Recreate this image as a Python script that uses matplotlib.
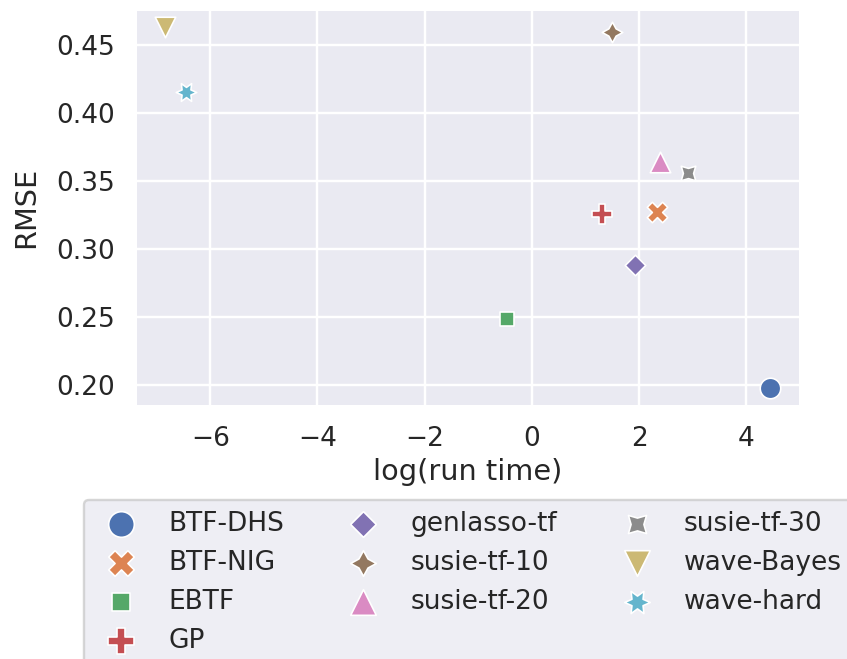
import matplotlib
matplotlib.use("Agg")
import matplotlib.pyplot as plt
import seaborn as sns

# run time (log scale) and error for each method
methods = ["BTF-DHS", "BTF-NIG", "EBTF", "GP", "genlasso-tf",
           "susie-tf-10", "susie-tf-20", "susie-tf-30", "wave-Bayes", "wave-hard"]
log_time = [4.44, 2.33, -0.47, 1.31, 1.93, 1.49, 2.40, 2.92, -6.84, -6.45]
rmse = [0.198, 0.327, 0.2485, 0.326, 0.288, 0.459, 0.364, 0.356, 0.463, 0.4155]

sns.set_theme(context="talk", style="darkgrid")

# same marker sequence seaborn uses for the style semantic
markers = ["o", "X", (4, 0, 45), "P", (4, 0, 0), (4, 1, 0), "^", (4, 1, 45), "v", (6, 1, 30)]
colors = sns.color_palette("deep", len(methods))

dpi = 115
fig = plt.figure(figsize=(7.366, 5.731), dpi=dpi)
ax = fig.add_axes([0.1594, 0.3839, 0.785, 0.6024])

s = 165
for name, x, y, m, c in zip(methods, log_time, rmse, markers, colors):
    ax.scatter(x, y, s=s, marker=m, color=c, edgecolor="white",
               linewidth=0.08 * s ** 0.5, label=name)

ax.set_xlabel("log(run time)")
ax.set_ylabel("RMSE", labelpad=10)
ax.set_yticks([0.20, 0.25, 0.30, 0.35, 0.40, 0.45])
ax.set_xticks([-6, -4, -2, 0, 2, 4])

handles, labels = ax.get_legend_handles_labels()
fig.legend(handles, labels, ncol=3, loc="upper left", markerscale=1.25,
           bbox_to_anchor=(0.0838, 0.261))

fig.savefig("out.png", dpi=dpi)
